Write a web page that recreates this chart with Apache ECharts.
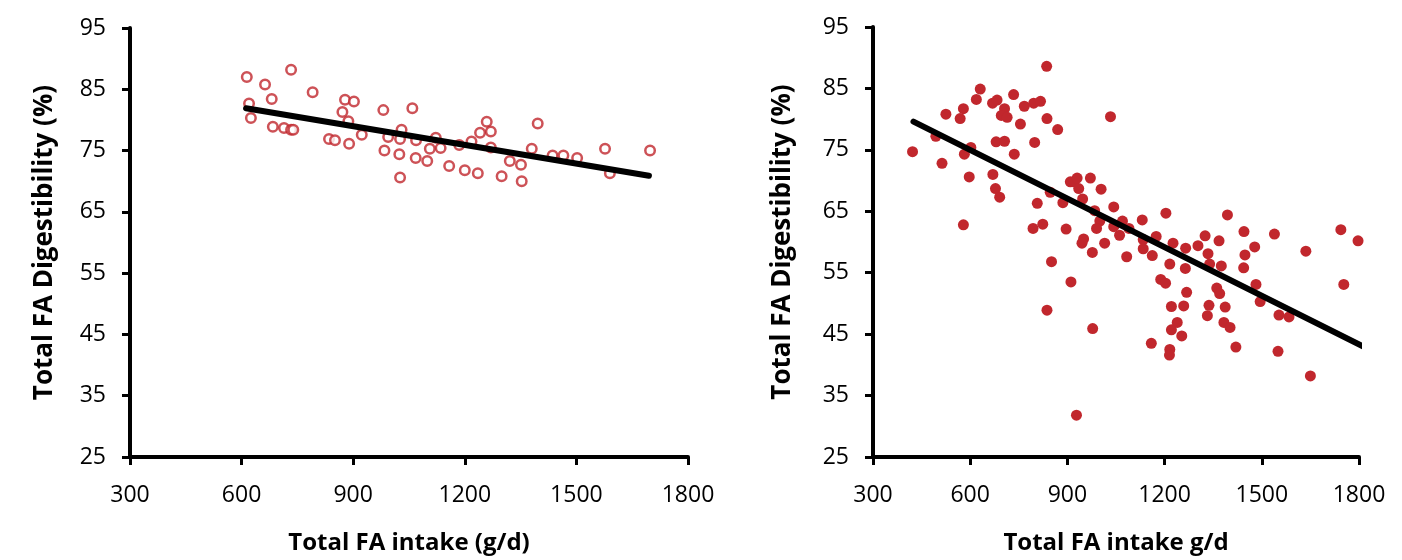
<!DOCTYPE html>
<html>
<head>
<meta charset="utf-8">
<script src="https://cdn.jsdelivr.net/npm/echarts@6/dist/echarts.min.js"></script>
<style>html,body{margin:0;padding:0;background:#fff}#c{width:1402px;height:560px}</style>
</head>
<body>
<div id="c"></div>
<script>
// ---- data ----
const yTicks = [25, 35, 45, 55, 65, 75, 85, 95];
const xTicks = [300, 600, 900, 1200, 1500, 1800];

const leftX = [614,733,663,791,681,620,625,684,714,733,739,878,902,871,887,835,851,889,923,981,1059,1030,994,1026,984,1024,1026,1069,1122,1106,1135,1068,1099,1158,1200,1185,1218,1235,1259,1241,1270,1270,1321,1351,1299,1353,1396,1380,1436,1465,1502,1577,1590,1698];
const leftY = [87.0,88.2,85.8,84.5,83.4,82.7,80.3,78.9,78.7,78.4,78.4,83.3,83.0,81.3,79.8,76.9,76.7,76.1,77.6,81.6,81.9,78.4,77.2,76.9,75.0,74.4,70.6,76.7,77.1,75.3,75.4,73.8,73.3,72.5,71.8,75.9,76.5,71.3,79.7,77.9,78.1,75.5,73.3,72.7,70.8,70.0,79.4,75.3,74.2,74.2,73.8,75.3,71.3,75.0];

const rightX = [836,631,619,669,683,734,706,696,714,767,796,817,837,870,755,579,525,569,494,422,513,602,582,680,706,799,736,597,670,678,691,579,807,847,886,909,794,824,896,851,837,920,930,971,935,1004,947,984,1000,990,1043,1070,1043,1090,1061,950,945,1015,977,1083,1131,1204,1134,1134,1162,1174,1226,1216,1265,1264,1303,1325,1368,1334,1339,1375,1394,911,1188,1203,1268,1221,1259,1239,1221,1253,1159,1216,1215,978,928,1361,1370,1337,1387,1332,1383,1402,1445,1478,1448,1444,1539,1636,1744,1797,1829,1753,1482,1495,1553,1584,1420,1550,1650,1033];
const rightY = [88.6,84.9,83.2,82.6,83.1,84.0,81.7,80.6,80.3,82.1,82.6,82.9,80.1,78.3,79.2,81.7,80.8,80.1,77.2,74.7,72.8,75.4,74.3,76.3,76.4,76.2,74.3,70.6,71.0,68.7,67.3,62.8,66.3,68.1,66.4,69.8,62.2,62.9,62.1,56.8,48.9,69.8,70.4,70.4,68.7,68.6,67.0,65.1,63.4,62.2,65.7,63.4,62.5,62.2,61.1,60.5,59.8,59.8,58.3,57.6,63.6,64.7,60.4,58.9,57.8,60.9,59.8,56.4,59.0,55.7,59.4,61.0,60.2,58.1,56.4,56.1,64.4,53.5,53.9,53.3,51.8,49.5,49.6,46.9,45.7,44.7,43.5,42.5,41.6,45.9,31.8,52.5,51.6,49.7,49.4,48.0,46.9,46.1,61.7,59.2,57.9,55.8,61.3,58.5,62.0,60.2,54.3,53.1,53.1,50.3,48.1,47.8,42.9,42.2,38.2,80.4];

const leftTrendX = [612, 1695];
const leftTrendY = [81.9, 70.9];
const rightTrendX = [425, 1824];
const rightTrendY = [79.6, 42.7];

const yTitle = 'Total FA Digestibility (%)';
const leftXTitle = 'Total FA intake (g/d)';
const rightXTitle = 'Total FA intake g/d';

// ---- chart ----
const pairs = (xs, ys) => xs.map((x, i) => [x, ys[i]]);
const FONT = '"Open Sans", "Noto Sans", sans-serif';
const RED = '#c1272d';
const AXW = 4;

function xAxis(idx, title) {
  return {
    type: 'value', gridIndex: idx, min: 300, max: 1800, interval: 300,
    name: title, nameLocation: 'middle', nameGap: 74,
    nameTextStyle: { color: '#000', fontSize: 24, fontWeight: 'bold', fontFamily: FONT },
    axisLine: { show: true, onZero: false, lineStyle: { color: '#000', width: AXW } },
    axisTick: { show: true, length: 8, lineStyle: { color: '#000', width: 3 }, customValues: xTicks },
    axisLabel: { color: '#000', fontSize: 23, fontFamily: FONT, margin: 27, customValues: xTicks,
      formatter: v => String(v) },
    splitLine: { show: false }
  };
}
function yAxis(idx, gap) {
  return {
    type: 'value', gridIndex: idx, min: 25, max: 95,
    name: yTitle, nameLocation: 'middle', nameGap: gap, nameRotate: 90,
    nameTextStyle: { color: '#000', fontSize: 26, fontWeight: 'bold', fontFamily: FONT },
    axisLine: { show: true, onZero: false, lineStyle: { color: '#000', width: AXW } },
    axisTick: { show: true, length: 8, lineStyle: { color: '#000', width: 3 }, customValues: yTicks },
    axisLabel: { color: '#000', fontSize: 23, fontFamily: FONT, margin: 24, customValues: yTicks,
      formatter: v => String(v) },
    splitLine: { show: false }
  };
}

const chart = echarts.init(document.getElementById('c'), null, { renderer: 'canvas' });
chart.setOption({
  animation: false,
  backgroundColor: '#fff',
  grid: [
    { left: 130, right: 714, top: 28, bottom: 98, containLabel: false },
    { left: 873, right: 43, top: 27, bottom: 100, containLabel: false }
  ],
  xAxis: [xAxis(0, leftXTitle), xAxis(1, rightXTitle)],
  yAxis: [yAxis(0, 72), yAxis(1, 77)],
  series: [
    { type: 'scatter', xAxisIndex: 0, yAxisIndex: 0, data: pairs(leftX, leftY),
      symbol: 'circle', symbolSize: 9.5,
      itemStyle: { color: '#fff', borderColor: RED, borderWidth: 2.5 } },
    { type: 'line', xAxisIndex: 0, yAxisIndex: 0, data: pairs(leftTrendX, leftTrendY),
      symbol: 'none', lineStyle: { color: '#000', width: 6, cap: 'round' }, z: 3 },
    { type: 'scatter', xAxisIndex: 1, yAxisIndex: 1, data: pairs(rightX, rightY),
      symbol: 'circle', symbolSize: 11,
      itemStyle: { color: RED, opacity: 1 } },
    { type: 'line', xAxisIndex: 1, yAxisIndex: 1, data: pairs(rightTrendX, rightTrendY),
      symbol: 'none', lineStyle: { color: '#000', width: 6, cap: 'round' }, z: 3 }
  ]
});
</script>
</body>
</html>
